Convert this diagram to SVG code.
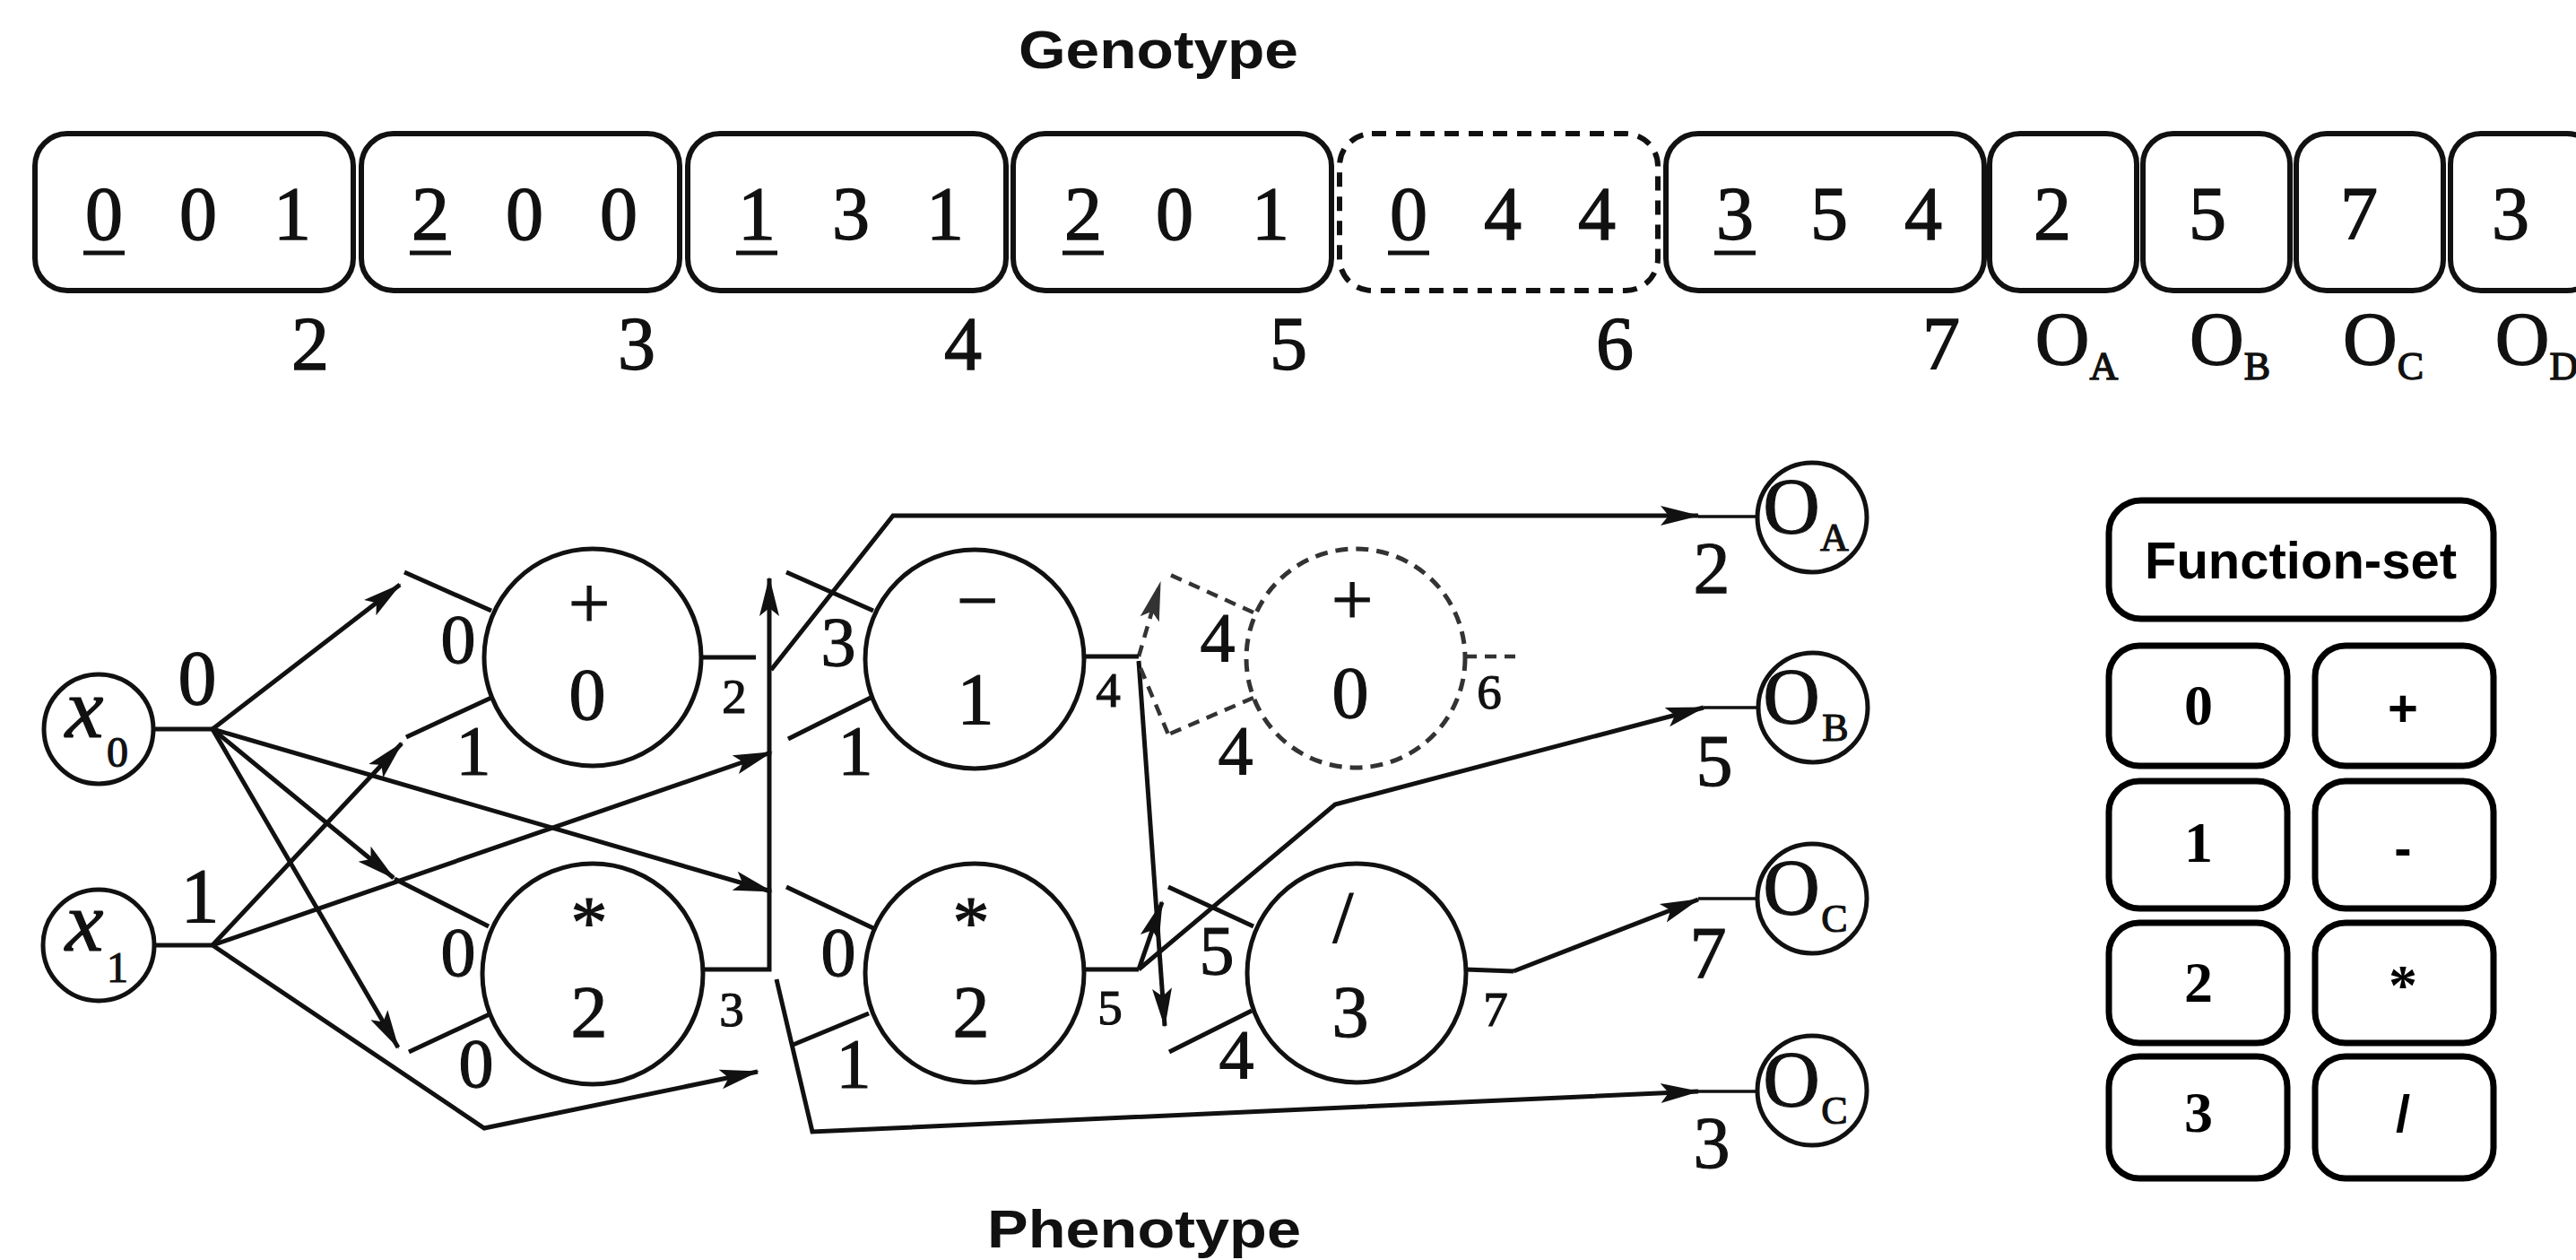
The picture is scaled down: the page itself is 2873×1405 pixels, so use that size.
<svg xmlns="http://www.w3.org/2000/svg" width="2873" height="1405" viewBox="0 0 2873 1405">
<defs>
<style>
.bg{fill:#fff}
.gb{fill:#fff;stroke:#111;stroke-width:6}
.gbd{fill:none;stroke:#111;stroke-width:6;stroke-dasharray:16 11}
.gd{font-family:"Liberation Serif","Times New Roman",serif;font-size:84px;fill:#111;stroke:#111;stroke-width:1.4;text-anchor:middle}
.ul{stroke:#111;stroke-width:5}
.title{font-family:"Liberation Sans",Arial,sans-serif;font-weight:bold;font-size:60px;fill:#111;text-anchor:middle}
.nd{fill:#fff;stroke:#111;stroke-width:5}
.ndd{fill:#fff;stroke:#333;stroke-width:5;stroke-dasharray:14 9}
.ln{fill:none;stroke:#111;stroke-width:5}
.lnd{fill:none;stroke:#333;stroke-width:4.5;stroke-dasharray:13 9}
.thin{fill:none;stroke:#111;stroke-width:3.5}
.sf{font-family:"Liberation Serif","Times New Roman",serif;fill:#111;stroke:#111;stroke-width:1.2;text-anchor:middle}
.in{font-size:82px}
.lb{font-size:78px}
.jl{font-size:86px}
.sm{font-size:55px}
.xi{font-style:italic;font-size:96px}
.sub{font-size:48px}
.oo{font-size:88px}
.os{font-size:44px}
.fb{fill:#fff;stroke:#000;stroke-width:7}
.ft{font-family:"Liberation Sans",Arial,sans-serif;font-weight:bold;font-size:58px;fill:#000;text-anchor:middle}
.fd{font-family:"Liberation Serif","Times New Roman",serif;font-weight:bold;font-size:64px;fill:#000;text-anchor:middle}
</style>
<marker id="ah" markerUnits="userSpaceOnUse" markerWidth="46" markerHeight="26" refX="42" refY="13" orient="auto"><path d="M0,2 L44,13 L0,24 L9,13 Z" fill="#111"/></marker>
<marker id="ahd" markerUnits="userSpaceOnUse" markerWidth="46" markerHeight="26" refX="42" refY="13" orient="auto"><path d="M0,2 L44,13 L0,24 L9,13 Z" fill="#333"/></marker>
</defs>
<rect class="bg" x="0" y="0" width="2873" height="1405"/>

<text class="title" x="1292" y="76" textLength="312" lengthAdjust="spacingAndGlyphs">Genotype</text>

<g id="genotype">
 <g id="g-node2"><rect class="gb" x="39" y="149" width="355" height="175" rx="36"/>
  <text class="gd" x="116" y="267">0</text><text class="gd" x="221" y="267">0</text><text class="gd" x="326" y="267">1</text>
  <line class="ul" x1="93" y1="282" x2="139" y2="282"/><text class="gd" x="346" y="412">2</text></g>
 <g id="g-node3"><rect class="gb" x="403" y="149" width="355" height="175" rx="36"/>
  <text class="gd" x="480" y="267">2</text><text class="gd" x="585" y="267">0</text><text class="gd" x="690" y="267">0</text>
  <line class="ul" x1="457" y1="282" x2="503" y2="282"/><text class="gd" x="710" y="412">3</text></g>
 <g id="g-node4"><rect class="gb" x="767" y="149" width="355" height="175" rx="36"/>
  <text class="gd" x="844" y="267">1</text><text class="gd" x="949" y="267">3</text><text class="gd" x="1054" y="267">1</text>
  <line class="ul" x1="821" y1="282" x2="867" y2="282"/><text class="gd" x="1074" y="412">4</text></g>
 <g id="g-node5"><rect class="gb" x="1130" y="149" width="355" height="175" rx="36"/>
  <text class="gd" x="1208" y="267">2</text><text class="gd" x="1310" y="267">0</text><text class="gd" x="1417" y="267">1</text>
  <line class="ul" x1="1185" y1="282" x2="1231" y2="282"/><text class="gd" x="1437" y="412">5</text></g>
 <g id="g-node6"><rect class="gbd" x="1494" y="149" width="355" height="175" rx="36"/>
  <text class="gd" x="1571" y="267">0</text><text class="gd" x="1676" y="267">4</text><text class="gd" x="1781" y="267">4</text>
  <line class="ul" x1="1548" y1="282" x2="1594" y2="282"/><text class="gd" x="1801" y="412">6</text></g>
 <g id="g-node7"><rect class="gb" x="1858" y="149" width="355" height="175" rx="36"/>
  <text class="gd" x="1935" y="267">3</text><text class="gd" x="2040" y="267">5</text><text class="gd" x="2145" y="267">4</text>
  <line class="ul" x1="1912" y1="282" x2="1958" y2="282"/><text class="gd" x="2165" y="412">7</text></g>
 <g id="g-oa"><rect class="gb" x="2219" y="149" width="164" height="175" rx="34"/>
  <text class="gd" x="2289" y="267">2</text><text class="gd" x="2316" y="407">O<tspan font-size="44" dy="16">A</tspan></text></g>
 <g id="g-ob"><rect class="gb" x="2390" y="149" width="164" height="175" rx="34"/>
  <text class="gd" x="2462" y="267">5</text><text class="gd" x="2487" y="407">O<tspan font-size="44" dy="16">B</tspan></text></g>
 <g id="g-oc"><rect class="gb" x="2561" y="149" width="164" height="175" rx="34"/>
  <text class="gd" x="2631" y="267">7</text><text class="gd" x="2658" y="407">O<tspan font-size="44" dy="16">C</tspan></text></g>
 <g id="g-od"><rect class="gb" x="2733" y="149" width="164" height="175" rx="34"/>
  <text class="gd" x="2800" y="267">3</text><text class="gd" x="2829" y="407">O<tspan font-size="44" dy="16">D</tspan></text></g>
</g>

<g id="connectors">
 <line class="ln" x1="237" y1="813" x2="446" y2="652" marker-end="url(#ah)"/>
 <line class="ln" x1="237" y1="813" x2="439" y2="979" marker-end="url(#ah)"/>
 <line class="ln" x1="237" y1="813" x2="444" y2="1168" marker-end="url(#ah)"/>
 <line class="ln" x1="237" y1="813" x2="860" y2="994" marker-end="url(#ah)"/>
 <line class="ln" x1="237" y1="1054" x2="448" y2="829" marker-end="url(#ah)"/>
 <line class="ln" x1="237" y1="1054" x2="860" y2="839" marker-end="url(#ah)"/>
 <polyline class="ln" points="237,1054 540,1258 845,1195" marker-end="url(#ah)"/>
 <polyline class="ln" points="782,1081 858,1081 858,645" marker-end="url(#ah)"/>
 <polyline class="ln" points="860,747 996,575 1894,575" marker-end="url(#ah)"/>
 <line class="thin" x1="1894" y1="576" x2="1960" y2="576"/>
 <polyline class="ln" points="866,1092 906,1262 1894,1217" marker-end="url(#ah)"/>
 <line class="thin" x1="1894" y1="1217" x2="1960" y2="1217"/>
 <line class="ln" x1="1270" y1="1081" x2="1296" y2="1006" marker-end="url(#ah)"/>
 <line class="ln" x1="1270" y1="737" x2="1299" y2="1144" marker-end="url(#ah)"/>
 <polyline class="ln" points="1270,1081 1489,897 1900,789" marker-end="url(#ah)"/>
 <line class="thin" x1="1900" y1="789" x2="1961" y2="789"/>
 <polyline class="ln" points="1688,1083 1894,1003" marker-end="url(#ah)"/>
 <line class="thin" x1="1894" y1="1002" x2="1960" y2="1002"/>
 <line class="lnd" x1="1270" y1="732" x2="1294" y2="650" marker-end="url(#ahd)"/>
 <line class="lnd" x1="1272" y1="745" x2="1303" y2="819"/>
</g>

<g id="x0"><line class="ln" x1="171" y1="813" x2="237" y2="813"/><circle class="nd" cx="110" cy="813" r="61"/>
 <text class="sf xi" x="94" y="822">x</text><text class="sf sub" x="131" y="855">0</text>
 <text class="sf jl" x="220" y="785">0</text></g>
<g id="x1"><line class="ln" x1="172" y1="1054" x2="237" y2="1054"/><circle class="nd" cx="110" cy="1054" r="62"/>
 <text class="sf xi" x="94" y="1060">x</text><text class="sf sub" x="131" y="1095">1</text>
 <text class="sf jl" x="223" y="1028">1</text></g>

<g id="n2"><line class="ln" x1="548" y1="681" x2="451" y2="638"/><line class="ln" x1="548" y1="778" x2="453" y2="822"/>
 <line class="ln" x1="782" y1="733" x2="843" y2="733"/>
 <circle class="nd" cx="661" cy="733" r="121"/>
 <text class="sf in" x="657" y="700">+</text><text class="sf in" x="655" y="802">0</text>
 <text class="sf lb" x="511" y="739">0</text><text class="sf lb" x="528" y="863">1</text><text class="sf sm" x="819" y="795">2</text></g>
<g id="n3"><line class="ln" x1="545" y1="1033" x2="440" y2="980"/><line class="ln" x1="548" y1="1130" x2="456" y2="1173"/>
 <circle class="nd" cx="661" cy="1086" r="123"/>
 <text class="sf in" x="657" y="1056">*</text><text class="sf in" x="657" y="1156">2</text>
 <text class="sf lb" x="511" y="1088">0</text><text class="sf lb" x="531" y="1212">0</text><text class="sf sm" x="816" y="1144">3</text></g>
<g id="n4"><line class="ln" x1="974" y1="681" x2="877" y2="638"/><line class="ln" x1="971" y1="778" x2="879" y2="824"/>
 <line class="ln" x1="1209" y1="732" x2="1270" y2="732"/>
 <circle class="nd" cx="1087" cy="735" r="122"/>
 <text class="sf in" x="1090" y="697">−</text><text class="sf in" x="1088" y="807">1</text>
 <text class="sf lb" x="935" y="742">3</text><text class="sf lb" x="954" y="863">1</text><text class="sf sm" x="1236" y="788">4</text></g>
<g id="n5"><line class="ln" x1="974" y1="1035" x2="877" y2="989"/><line class="ln" x1="969" y1="1130" x2="882" y2="1166"/>
 <line class="ln" x1="1209" y1="1081" x2="1270" y2="1081"/>
 <circle class="nd" cx="1087" cy="1085" r="122"/>
 <text class="sf in" x="1083" y="1056">*</text><text class="sf in" x="1083" y="1156">2</text>
 <text class="sf lb" x="935" y="1088">0</text><text class="sf lb" x="952" y="1212">1</text><text class="sf sm" x="1238" y="1142">5</text></g>
<g id="n6"><line class="lnd" x1="1398" y1="683" x2="1303" y2="640"/><line class="lnd" x1="1398" y1="778" x2="1303" y2="819"/>
 <line class="lnd" x1="1634" y1="732" x2="1690" y2="732"/>
 <circle class="ndd" cx="1512" cy="734" r="122"/>
 <text class="sf in" x="1508" y="696">+</text><text class="sf in" x="1506" y="800">0</text>
 <text class="sf lb" x="1358" y="737">4</text><text class="sf lb" x="1378" y="863">4</text><text class="sf sm" x="1661" y="790">6</text></g>
<g id="n7"><line class="ln" x1="1398" y1="1033" x2="1303" y2="989"/><line class="ln" x1="1396" y1="1127" x2="1304" y2="1173"/>
 <line class="ln" x1="1634" y1="1081" x2="1688" y2="1083"/>
 <circle class="nd" cx="1513" cy="1085" r="122"/>
 <text class="sf in" x="1498" y="1050">/</text><text class="sf in" x="1506" y="1156">3</text>
 <text class="sf lb" x="1357" y="1086">5</text><text class="sf lb" x="1379" y="1202">4</text><text class="sf sm" x="1668" y="1144">7</text></g>

<g id="oa"><circle class="nd" cx="2021" cy="577" r="61"/><text class="sf oo" x="1998" y="594">O</text><text class="sf os" x="2046" y="614">A</text><text class="sf in" x="1909" y="661">2</text></g>
<g id="ob"><circle class="nd" cx="2022" cy="789" r="61"/><text class="sf oo" x="1998" y="806">O</text><text class="sf os" x="2047" y="826">B</text><text class="sf in" x="1912" y="876">5</text></g>
<g id="oc"><circle class="nd" cx="2021" cy="1002" r="61"/><text class="sf oo" x="1998" y="1019">O</text><text class="sf os" x="2046" y="1039">C</text><text class="sf in" x="1905" y="1090">7</text></g>
<g id="oc2"><circle class="nd" cx="2021" cy="1216" r="61"/><text class="sf oo" x="1998" y="1233">O</text><text class="sf os" x="2046" y="1253">C</text><text class="sf in" x="1909" y="1302">3</text></g>

<g id="function-set">
 <rect class="fb" x="2352" y="558" width="429" height="132" rx="36"/><text class="ft" x="2566" y="645">Function-set</text>
 <rect class="fb" x="2352" y="720" width="199" height="134" rx="34"/><text class="fd" x="2452" y="808">0</text>
 <rect class="fb" x="2582" y="720" width="199" height="134" rx="34"/><text class="ft" x="2680" y="810">+</text>
 <rect class="fb" x="2352" y="871" width="199" height="142" rx="34"/><text class="fd" x="2452" y="961">1</text>
 <rect class="fb" x="2582" y="871" width="199" height="142" rx="34"/><text class="ft" x="2680" y="966">-</text>
 <rect class="fb" x="2352" y="1029" width="199" height="134" rx="34"/><text class="fd" x="2452" y="1117">2</text>
 <rect class="fb" x="2582" y="1029" width="199" height="134" rx="34"/><text class="fd" x="2680" y="1120">*</text>
 <rect class="fb" x="2352" y="1178" width="199" height="136" rx="34"/><text class="fd" x="2452" y="1262">3</text>
 <rect class="fb" x="2582" y="1178" width="199" height="136" rx="34"/><text class="ft" x="2680" y="1262">/</text>
</g>

<text class="title" x="1276" y="1391" textLength="350" lengthAdjust="spacingAndGlyphs">Phenotype</text>
</svg>
